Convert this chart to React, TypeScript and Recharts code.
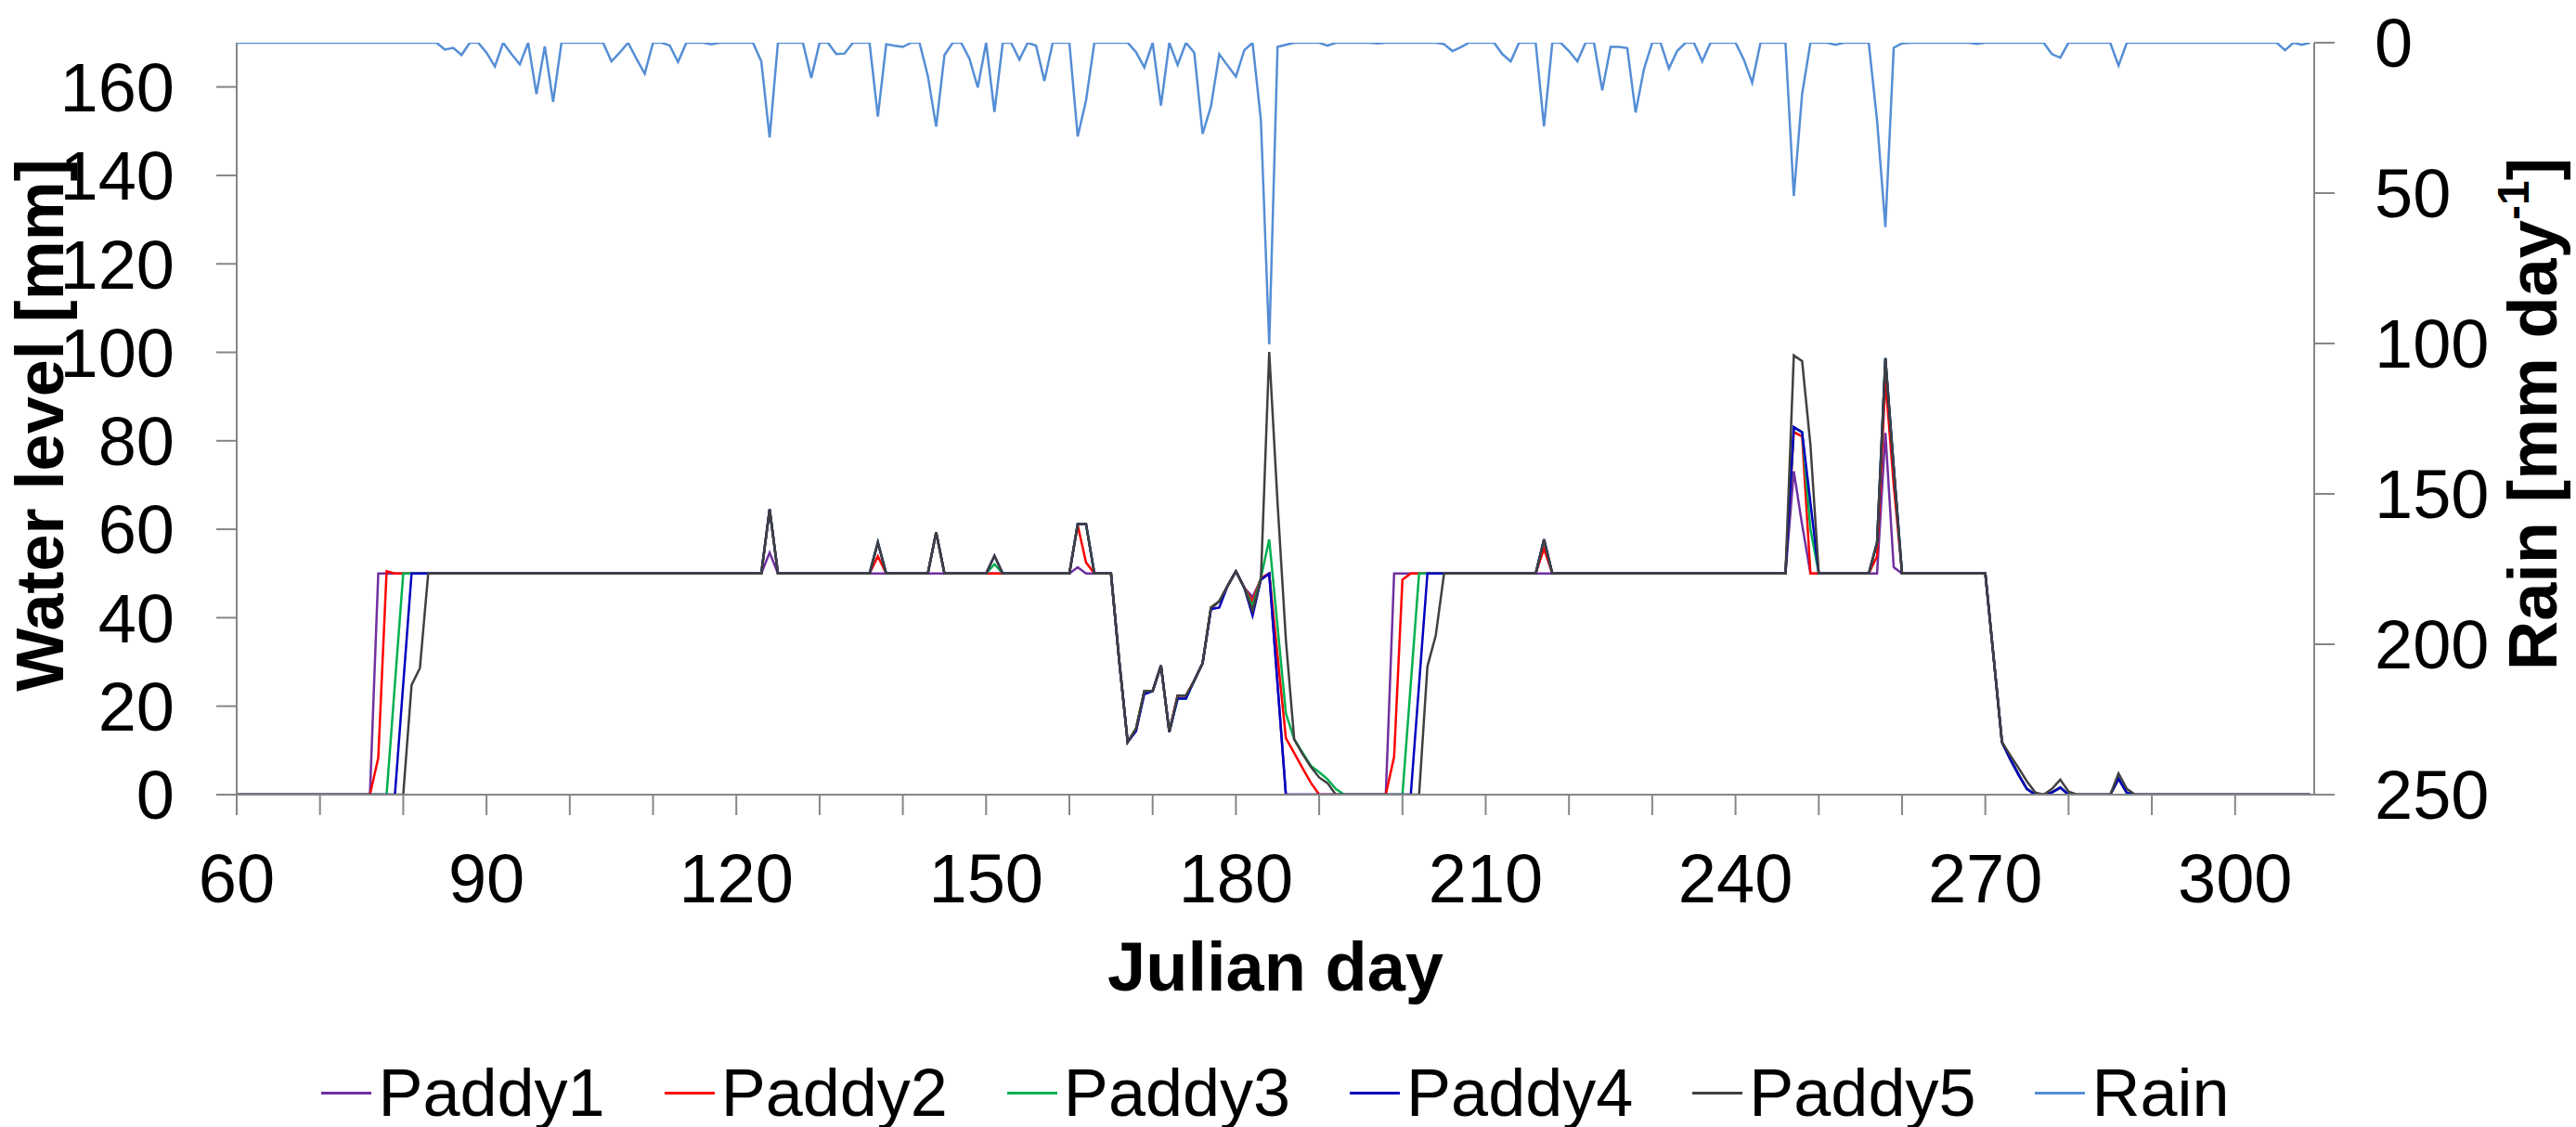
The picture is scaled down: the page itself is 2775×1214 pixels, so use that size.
import { LineChart, Line, XAxis, YAxis, Legend, Label } from "recharts";

const FONT = '"Liberation Sans", Arial, sans-serif';
const AXIS_COLOR = "#868686";

const FIRST_DAY = 60;

const X_TICKS = [60, 70, 80, 90, 100, 110, 120, 130, 140, 150, 160, 170, 180, 190, 200, 210, 220, 230, 240, 250, 260, 270, 280, 290, 300];
const X_LABELS = [60, 90, 120, 150, 180, 210, 240, 270, 300];
const LEVEL_TICKS = [0, 20, 40, 60, 80, 100, 120, 140, 160];
const RAIN_TICKS = [0, 50, 100, 150, 200, 250];

// water level [mm], one value per day from day 60
const paddy1 = [
    0, 0, 0, 0, 0, 0, 0, 0, 0, 0,
    0, 0, 0, 0, 0, 0, 0, 50, 50, 50,
    50, 50, 50, 50, 50, 50, 50, 50, 50, 50,
    50, 50, 50, 50, 50, 50, 50, 50, 50, 50,
    50, 50, 50, 50, 50, 50, 50, 50, 50, 50,
    50, 50, 50, 50, 50, 50, 50, 50, 50, 50,
    50, 50, 50, 50, 54.7, 50, 50, 50, 50, 50,
    50, 50, 50, 50, 50, 50, 50, 50, 50, 50,
    50, 50, 50, 50, 50, 50, 50, 50, 50, 50,
    50, 50, 50, 50, 50, 50, 50, 50, 50, 50,
    50, 51.4, 50, 50, 50, 50, 30, 11.9, 14.4, 23.4,
    23.4, 29.2, 14.2, 22.4, 22.4, 25.8, 29.7, 41.9, 43.7, 47.2,
    50.5, 46.8, 44.7, 48.6, 50, 25, 0, 0, 0, 0,
    0, 0, 0, 0, 0, 0, 0, 0, 0, 50,
    50, 50, 50, 50, 50, 50, 50, 50, 50, 50,
    50, 50, 50, 50, 50, 50, 50, 50, 50, 50,
    50, 50, 50, 50, 50, 50, 50, 50, 50, 50,
    50, 50, 50, 50, 50, 50, 50, 50, 50, 50,
    50, 50, 50, 50, 50, 50, 50, 73.1, 61, 50,
    50, 50, 50, 50, 50, 50, 50, 50, 81.8, 51.4,
    50, 50, 50, 50, 50, 50, 50, 50, 50, 50,
    50, 31, 11.9, 8, 4.5, 1.3, 0, 0, 0.5, 1.6,
    0, 0, 0, 0, 0, 0, 3.6, 0.4, 0, 0,
    0, 0, 0, 0, 0, 0, 0, 0, 0, 0,
    0, 0, 0, 0, 0, 0, 0, 0, 0, 0,
];

const paddy2 = [
    0, 0, 0, 0, 0, 0, 0, 0, 0, 0,
    0, 0, 0, 0, 0, 0, 0, 8.3, 50.5, 50,
    50, 50, 50, 50, 50, 50, 50, 50, 50, 50,
    50, 50, 50, 50, 50, 50, 50, 50, 50, 50,
    50, 50, 50, 50, 50, 50, 50, 50, 50, 50,
    50, 50, 50, 50, 50, 50, 50, 50, 50, 50,
    50, 50, 50, 50, 64.5, 50, 50, 50, 50, 50,
    50, 50, 50, 50, 50, 50, 50, 53.9, 50, 50,
    50, 50, 50, 50, 59.3, 50, 50, 50, 50, 50,
    50, 50, 50, 50, 50, 50, 50, 50, 50, 50,
    50, 60.9, 52.5, 50, 50, 50, 30, 11.9, 14.9, 23.4,
    23.4, 29.2, 14.2, 22.4, 22.4, 25.8, 29.7, 42.3, 43.7, 47.2,
    50.5, 46.8, 43.7, 49, 50, 31.4, 12.8, 9.4, 6, 2.7,
    0, 0, 0, 0, 0, 0, 0, 0, 0, 8.6,
    48.6, 50, 50, 50, 50, 50, 50, 50, 50, 50,
    50, 50, 50, 50, 50, 50, 50, 55.6, 50, 50,
    50, 50, 50, 50, 50, 50, 50, 50, 50, 50,
    50, 50, 50, 50, 50, 50, 50, 50, 50, 50,
    50, 50, 50, 50, 50, 50, 50, 82, 81, 50,
    50, 50, 50, 50, 50, 50, 50, 53.9, 93.8, 70,
    50, 50, 50, 50, 50, 50, 50, 50, 50, 50,
    50, 31, 11.9, 8, 4.5, 1.3, 0, 0, 0.5, 1.6,
    0, 0, 0, 0, 0, 0, 3.6, 0.4, 0, 0,
    0, 0, 0, 0, 0, 0, 0, 0, 0, 0,
    0, 0, 0, 0, 0, 0, 0, 0, 0, 0,
];

const paddy3 = [
    0, 0, 0, 0, 0, 0, 0, 0, 0, 0,
    0, 0, 0, 0, 0, 0, 0, 0, 0, 25,
    50, 50, 50, 50, 50, 50, 50, 50, 50, 50,
    50, 50, 50, 50, 50, 50, 50, 50, 50, 50,
    50, 50, 50, 50, 50, 50, 50, 50, 50, 50,
    50, 50, 50, 50, 50, 50, 50, 50, 50, 50,
    50, 50, 50, 50, 64.5, 50, 50, 50, 50, 50,
    50, 50, 50, 50, 50, 50, 50, 57, 50, 50,
    50, 50, 50, 50, 59.3, 50, 50, 50, 50, 50,
    50, 52.1, 50, 50, 50, 50, 50, 50, 50, 50,
    50, 61.2, 61.2, 50, 50, 50, 30, 11.9, 14.9, 23.4,
    23.4, 29.2, 14.2, 21.7, 21.7, 25.8, 29.7, 42.3, 43.7, 47.2,
    50.5, 46.8, 42.6, 49, 57.7, 38, 18.4, 12.5, 9.5, 6.5,
    5.1, 3.5, 1.3, 0, 0, 0, 0, 0, 0, 0,
    0, 25, 50, 50, 50, 50, 50, 50, 50, 50,
    50, 50, 50, 50, 50, 50, 50, 57.7, 50, 50,
    50, 50, 50, 50, 50, 50, 50, 50, 50, 50,
    50, 50, 50, 50, 50, 50, 50, 50, 50, 50,
    50, 50, 50, 50, 50, 50, 50, 83, 82, 60,
    50, 50, 50, 50, 50, 50, 50, 57, 98.7, 74,
    50, 50, 50, 50, 50, 50, 50, 50, 50, 50,
    50, 31, 11.9, 8, 4.5, 1.3, 0, 0, 0.5, 1.6,
    0, 0, 0, 0, 0, 0, 3.6, 0.4, 0, 0,
    0, 0, 0, 0, 0, 0, 0, 0, 0, 0,
    0, 0, 0, 0, 0, 0, 0, 0, 0, 0,
];

const paddy4 = [
    0, 0, 0, 0, 0, 0, 0, 0, 0, 0,
    0, 0, 0, 0, 0, 0, 0, 0, 0, 0,
    25, 50, 50, 50, 50, 50, 50, 50, 50, 50,
    50, 50, 50, 50, 50, 50, 50, 50, 50, 50,
    50, 50, 50, 50, 50, 50, 50, 50, 50, 50,
    50, 50, 50, 50, 50, 50, 50, 50, 50, 50,
    50, 50, 50, 50, 64.5, 50, 50, 50, 50, 50,
    50, 50, 50, 50, 50, 50, 50, 57, 50, 50,
    50, 50, 50, 50, 59.3, 50, 50, 50, 50, 50,
    50, 54, 50, 50, 50, 50, 50, 50, 50, 50,
    50, 61.2, 61.2, 50, 50, 50, 30, 11.9, 14.4, 22.7,
    23.4, 29.2, 14.2, 21.7, 21.7, 25.8, 29.7, 41.9, 42.3, 47.2,
    50.5, 46.8, 40.5, 48.6, 50, 25, 0, 0, 0, 0,
    0, 0, 0, 0, 0, 0, 0, 0, 0, 0,
    0, 0, 25, 50, 50, 50, 50, 50, 50, 50,
    50, 50, 50, 50, 50, 50, 50, 57.7, 50, 50,
    50, 50, 50, 50, 50, 50, 50, 50, 50, 50,
    50, 50, 50, 50, 50, 50, 50, 50, 50, 50,
    50, 50, 50, 50, 50, 50, 50, 83.1, 81.9, 66,
    50, 50, 50, 50, 50, 50, 50, 57, 98.7, 74,
    50, 50, 50, 50, 50, 50, 50, 50, 50, 50,
    50, 31, 11.9, 8, 4.5, 1.3, 0, 0, 0.5, 1.6,
    0, 0, 0, 0, 0, 0, 3.6, 0.4, 0, 0,
    0, 0, 0, 0, 0, 0, 0, 0, 0, 0,
    0, 0, 0, 0, 0, 0, 0, 0, 0, 0,
];

const paddy5 = [
    0, 0, 0, 0, 0, 0, 0, 0, 0, 0,
    0, 0, 0, 0, 0, 0, 0, 0, 0, 0,
    0, 24.8, 28.6, 50, 50, 50, 50, 50, 50, 50,
    50, 50, 50, 50, 50, 50, 50, 50, 50, 50,
    50, 50, 50, 50, 50, 50, 50, 50, 50, 50,
    50, 50, 50, 50, 50, 50, 50, 50, 50, 50,
    50, 50, 50, 50, 64.5, 50, 50, 50, 50, 50,
    50, 50, 50, 50, 50, 50, 50, 57, 50, 50,
    50, 50, 50, 50, 59.3, 50, 50, 50, 50, 50,
    50, 54, 50, 50, 50, 50, 50, 50, 50, 50,
    50, 61.2, 61.2, 50, 50, 50, 30, 11.9, 14.9, 23.4,
    23.4, 29.2, 14.2, 22.4, 22.4, 25.8, 29.7, 42.3, 43.7, 47.2,
    50.5, 46.8, 41.6, 48.6, 100.1, 66, 35, 12.5, 9.2, 6.3,
    3.9, 2.6, 0, 0, 0, 0, 0, 0, 0, 0,
    0, 0, 0, 29, 36, 50, 50, 50, 50, 50,
    50, 50, 50, 50, 50, 50, 50, 57.7, 50, 50,
    50, 50, 50, 50, 50, 50, 50, 50, 50, 50,
    50, 50, 50, 50, 50, 50, 50, 50, 50, 50,
    50, 50, 50, 50, 50, 50, 50, 99.3, 98, 79,
    50, 50, 50, 50, 50, 50, 50, 57, 98.7, 74,
    50, 50, 50, 50, 50, 50, 50, 50, 50, 50,
    50, 31, 11.9, 8.9, 6, 3, 0.5, 0, 1.3, 3.4,
    0.7, 0, 0, 0, 0, 0, 4.8, 1.3, 0, 0,
    0, 0, 0, 0, 0, 0, 0, 0, 0, 0,
    0, 0, 0, 0, 0, 0, 0, 0, 0, 0,
];

// rain [mm/day]
const rain = [
    0, 0, 0, 0, 0, 0, 0, 0, 0, 0,
    0, 0, 0, 0, 0, 0, 0, 0, 0, 0,
    0, 0, 0, 0, 0, 2.3, 1.7, 4.1, 0, 0,
    3.3, 7.9, 0, 3.8, 7.2, 0, 17.1, 1.2, 19.7, 0,
    0, 0, 0, 0, 0, 6.2, 3.3, 0, 5.3, 10.3,
    0, 0, 0.9, 6.4, 0, 0, 0, 0.5, 0, 0,
    0, 0, 0, 6.2, 31.5, 0, 0, 0, 0, 11.7,
    0, 0, 3.8, 3.6, 0, 0, 0, 24.6, 0.5, 1,
    1.4, 0, 0, 11, 27.9, 4.1, 0, 0, 5.3, 14.9,
    0, 23, 0, 0, 5.6, 0, 1, 12.7, 0, 0,
    0, 31.2, 19.2, 0, 0, 0, 0, 0, 3.1, 8.2,
    0, 20.9, 0, 7.4, 0, 3.3, 30.3, 21.2, 3.8, 7.6,
    11.3, 2.5, 0, 25.7, 100.3, 1.4, 0.7, 0, 0, 0,
    0, 1, 0, 0, 0, 0, 0, 0.2, 0, 0,
    0, 0, 0, 0, 0, 0.5, 2.8, 1.5, 0, 0,
    0, 0, 3.8, 6.2, 0, 0, 0, 27.8, 0, 0,
    2.8, 6.2, 0, 0, 15.8, 1.4, 1.4, 1.8, 23.2, 8.8,
    0, 0, 8.6, 2.7, 0, 0, 6.2, 0, 0, 0,
    0, 5.6, 13.3, 0, 0, 0, 0, 51, 17, 0,
    0, 0, 0.7, 0, 0, 0, 0, 25.9, 61.3, 1.7,
    0.2, 0, 0, 0, 0, 0, 0, 0, 0, 0.4,
    0, 0, 0, 0, 0, 0, 0, 0, 3.8, 5,
    0, 0, 0, 0, 0, 0, 7.6, 0, 0, 0,
    0, 0, 0, 0, 0, 0, 0, 0, 0, 0,
    0, 0, 0, 0, 0, 0, 2.5, 0, 0.7, 0,
];

const data = rain.map((r, i) => ({
    day: FIRST_DAY + i,
    p1: paddy1[i],
    p2: paddy2[i],
    p3: paddy3[i],
    p4: paddy4[i],
    p5: paddy5[i],
    rain: r,
}));

const DayTick = ({ x, y, payload }: any) => {
    if (!X_LABELS.includes(payload.value)) return <g />;
    return (
        <text x={x} y={y} dy="0.71em" textAnchor="middle" fontSize={74} fontFamily={FONT} fill="#000">
            {payload.value}
        </text>
    );
};

const renderLegend = ({ payload }: any) => (
    <div
        style={{
            display: "flex",
            justifyContent: "center",
            gap: 64,
            height: 90,
            boxSizing: "border-box",
            paddingTop: 16,
            fontFamily: FONT,
            fontSize: 72,
            lineHeight: "80px",
            color: "#000",
        }}
    >
        {payload.map((entry: any, index: number) => (
            <div key={`item-${index}`} style={{ display: "flex", alignItems: "center" }}>
                <span style={{ width: 54, height: 3, background: entry.color, marginRight: 7 }} />
                <span>{entry.value}</span>
            </div>
        ))}
    </div>
);

const tickStyle = { fontSize: 74, fill: "#000", fontFamily: FONT };

export default function App() {
    return (
        <div style={{ position: "absolute", left: 0, top: 0, background: "#fff" }}>
            <LineChart width={2775} height={1214} data={data} margin={{ top: 46, right: 0, bottom: 0, left: 0 }}>
                <XAxis
                    dataKey="day"
                    type="number"
                    domain={[60, 309.5]}
                    allowDataOverflow
                    ticks={X_TICKS}
                    interval={0}
                    tick={<DayTick />}
                    tickSize={22}
                    tickMargin={41}
                    height={268}
                    stroke={AXIS_COLOR}
                    strokeWidth={2}
                >
                    <Label
                        content={() => (
                            <text x={1374} y={1067} textAnchor="middle" fontSize={74} fontWeight="bold" fontFamily={FONT} fill="#000">
                                Julian day
                            </text>
                        )}
                    />
                </XAxis>
                <YAxis
                    yAxisId="level"
                    domain={[0, 170]}
                    allowDataOverflow
                    ticks={LEVEL_TICKS}
                    interval={0}
                    width={255}
                    tickSize={22}
                    tickMargin={45}
                    tick={tickStyle}
                    stroke={AXIS_COLOR}
                    strokeWidth={2}
                >
                    <Label
                        content={() => (
                            <text
                                x={68}
                                y={458}
                                transform="rotate(-90 68 458)"
                                textAnchor="middle"
                                fontSize={72}
                                fontWeight="bold"
                                fontFamily={FONT}
                                fill="#000"
                            >
                                Water level [mm]
                            </text>
                        )}
                    />
                </YAxis>
                <YAxis
                    yAxisId="rain"
                    orientation="right"
                    reversed
                    domain={[0, 250]}
                    allowDataOverflow
                    ticks={RAIN_TICKS}
                    interval={0}
                    width={282}
                    tickSize={22}
                    tickMargin={43}
                    tick={tickStyle}
                    stroke={AXIS_COLOR}
                    strokeWidth={2}
                >
                    <Label
                        content={() => (
                            <text
                                x={2754}
                                y={446}
                                transform="rotate(-90 2754 446)"
                                textAnchor="middle"
                                fontSize={74}
                                fontWeight="bold"
                                fontFamily={FONT}
                                fill="#000"
                            >
                                Rain [mm day
                                <tspan fontSize={48} dy={-30}>-1</tspan>
                                <tspan dy={30}>]</tspan>
                            </text>
                        )}
                    />
                </YAxis>
                <Legend
                    verticalAlign="bottom"
                    content={renderLegend}
                    wrapperStyle={{ left: 0, width: 2748, height: 90 }}
                />
                <Line yAxisId="level" dataKey="p1" name="Paddy1" stroke="#7030A0" strokeWidth={2.5} dot={false} isAnimationActive={false} />
                <Line yAxisId="level" dataKey="p2" name="Paddy2" stroke="#FF0000" strokeWidth={2.5} dot={false} isAnimationActive={false} />
                <Line yAxisId="level" dataKey="p3" name="Paddy3" stroke="#00B050" strokeWidth={2.5} dot={false} isAnimationActive={false} />
                <Line yAxisId="level" dataKey="p4" name="Paddy4" stroke="#0000C0" strokeWidth={2.5} dot={false} isAnimationActive={false} />
                <Line yAxisId="level" dataKey="p5" name="Paddy5" stroke="#404040" strokeWidth={2.5} dot={false} isAnimationActive={false} />
                <Line yAxisId="rain" dataKey="rain" name="Rain" stroke="#558ED5" strokeWidth={2.5} dot={false} isAnimationActive={false} />
            </LineChart>
        </div>
    );
}
